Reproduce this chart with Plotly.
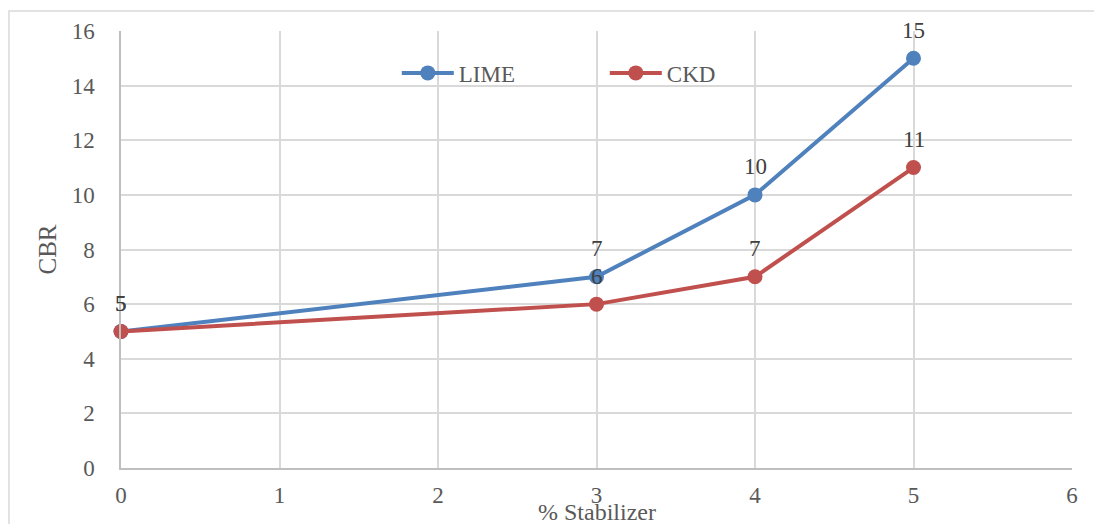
import plotly.graph_objects as go

x_vals = [0, 3, 4, 5]
lime = [5, 7, 10, 15]
ckd = [5, 6, 7, 11]
series_names = ["LIME", "CKD"]
colors = ["#4F81BD", "#C0504D"]

FONT = "Times New Roman, Liberation Serif, DejaVu Serif, serif"

fig = go.Figure()
for name, vals, col in zip(series_names, [lime, ckd], colors):
    fig.add_trace(go.Scatter(
        x=x_vals, y=vals, name=name, mode="lines+markers",
        line=dict(color=col, width=4),
        marker=dict(color=col, size=15),
        cliponaxis=False,
    ))
    for xv, yv in zip(x_vals, vals):
        fig.add_annotation(x=xv, y=yv, text=str(yv), showarrow=False,
                           yshift=28, font=dict(family=FONT, size=23, color="#404040"))

fig.add_shape(type="rect", xref="paper", yref="paper",
              x0=-0.1178, x1=1.05, y0=-0.2, y1=1.0458,
              line=dict(color="#d9d9d9", width=1.5), layer="below")

fig.add_annotation(x=0.5, y=-0.1007, xref="paper", yref="paper", text="% Stabilizer",
                   showarrow=False, xanchor="center", yanchor="middle",
                   font=dict(family=FONT, size=24, color="#595959"))

fig.update_layout(
    width=1094, height=524,
    margin=dict(l=121, r=22, t=31, b=56, autoexpand=False),
    paper_bgcolor="white", plot_bgcolor="white",
    font=dict(family=FONT, size=23, color="#595959"),
    showlegend=True,
    legend=dict(orientation="h", x=0.29, y=0.904, xanchor="left", yanchor="middle",
                font=dict(family=FONT, size=23, color="#595959"),
                itemwidth=52, entrywidth=141, bgcolor="rgba(0,0,0,0)"),
    xaxis=dict(range=[0, 6], dtick=1, showgrid=True, gridcolor="#d9d9d9", gridwidth=1.5,
               showline=True, linecolor="#bfbfbf", linewidth=1.5, zeroline=False,
               ticks="", ticklabelstandoff=6, automargin=False,
               tickfont=dict(family=FONT, size=23, color="#595959")),
    yaxis=dict(range=[0, 16], dtick=2, showgrid=True, gridcolor="#d9d9d9", gridwidth=1.5,
               showline=True, linecolor="#bfbfbf", linewidth=1.5, zeroline=False,
               ticks="", ticklabelstandoff=20, automargin=False,
               tickfont=dict(family=FONT, size=23, color="#595959"),
               title=dict(text="CBR", standoff=8, font=dict(family=FONT, size=25))),
)

fig.write_html("out.html")
